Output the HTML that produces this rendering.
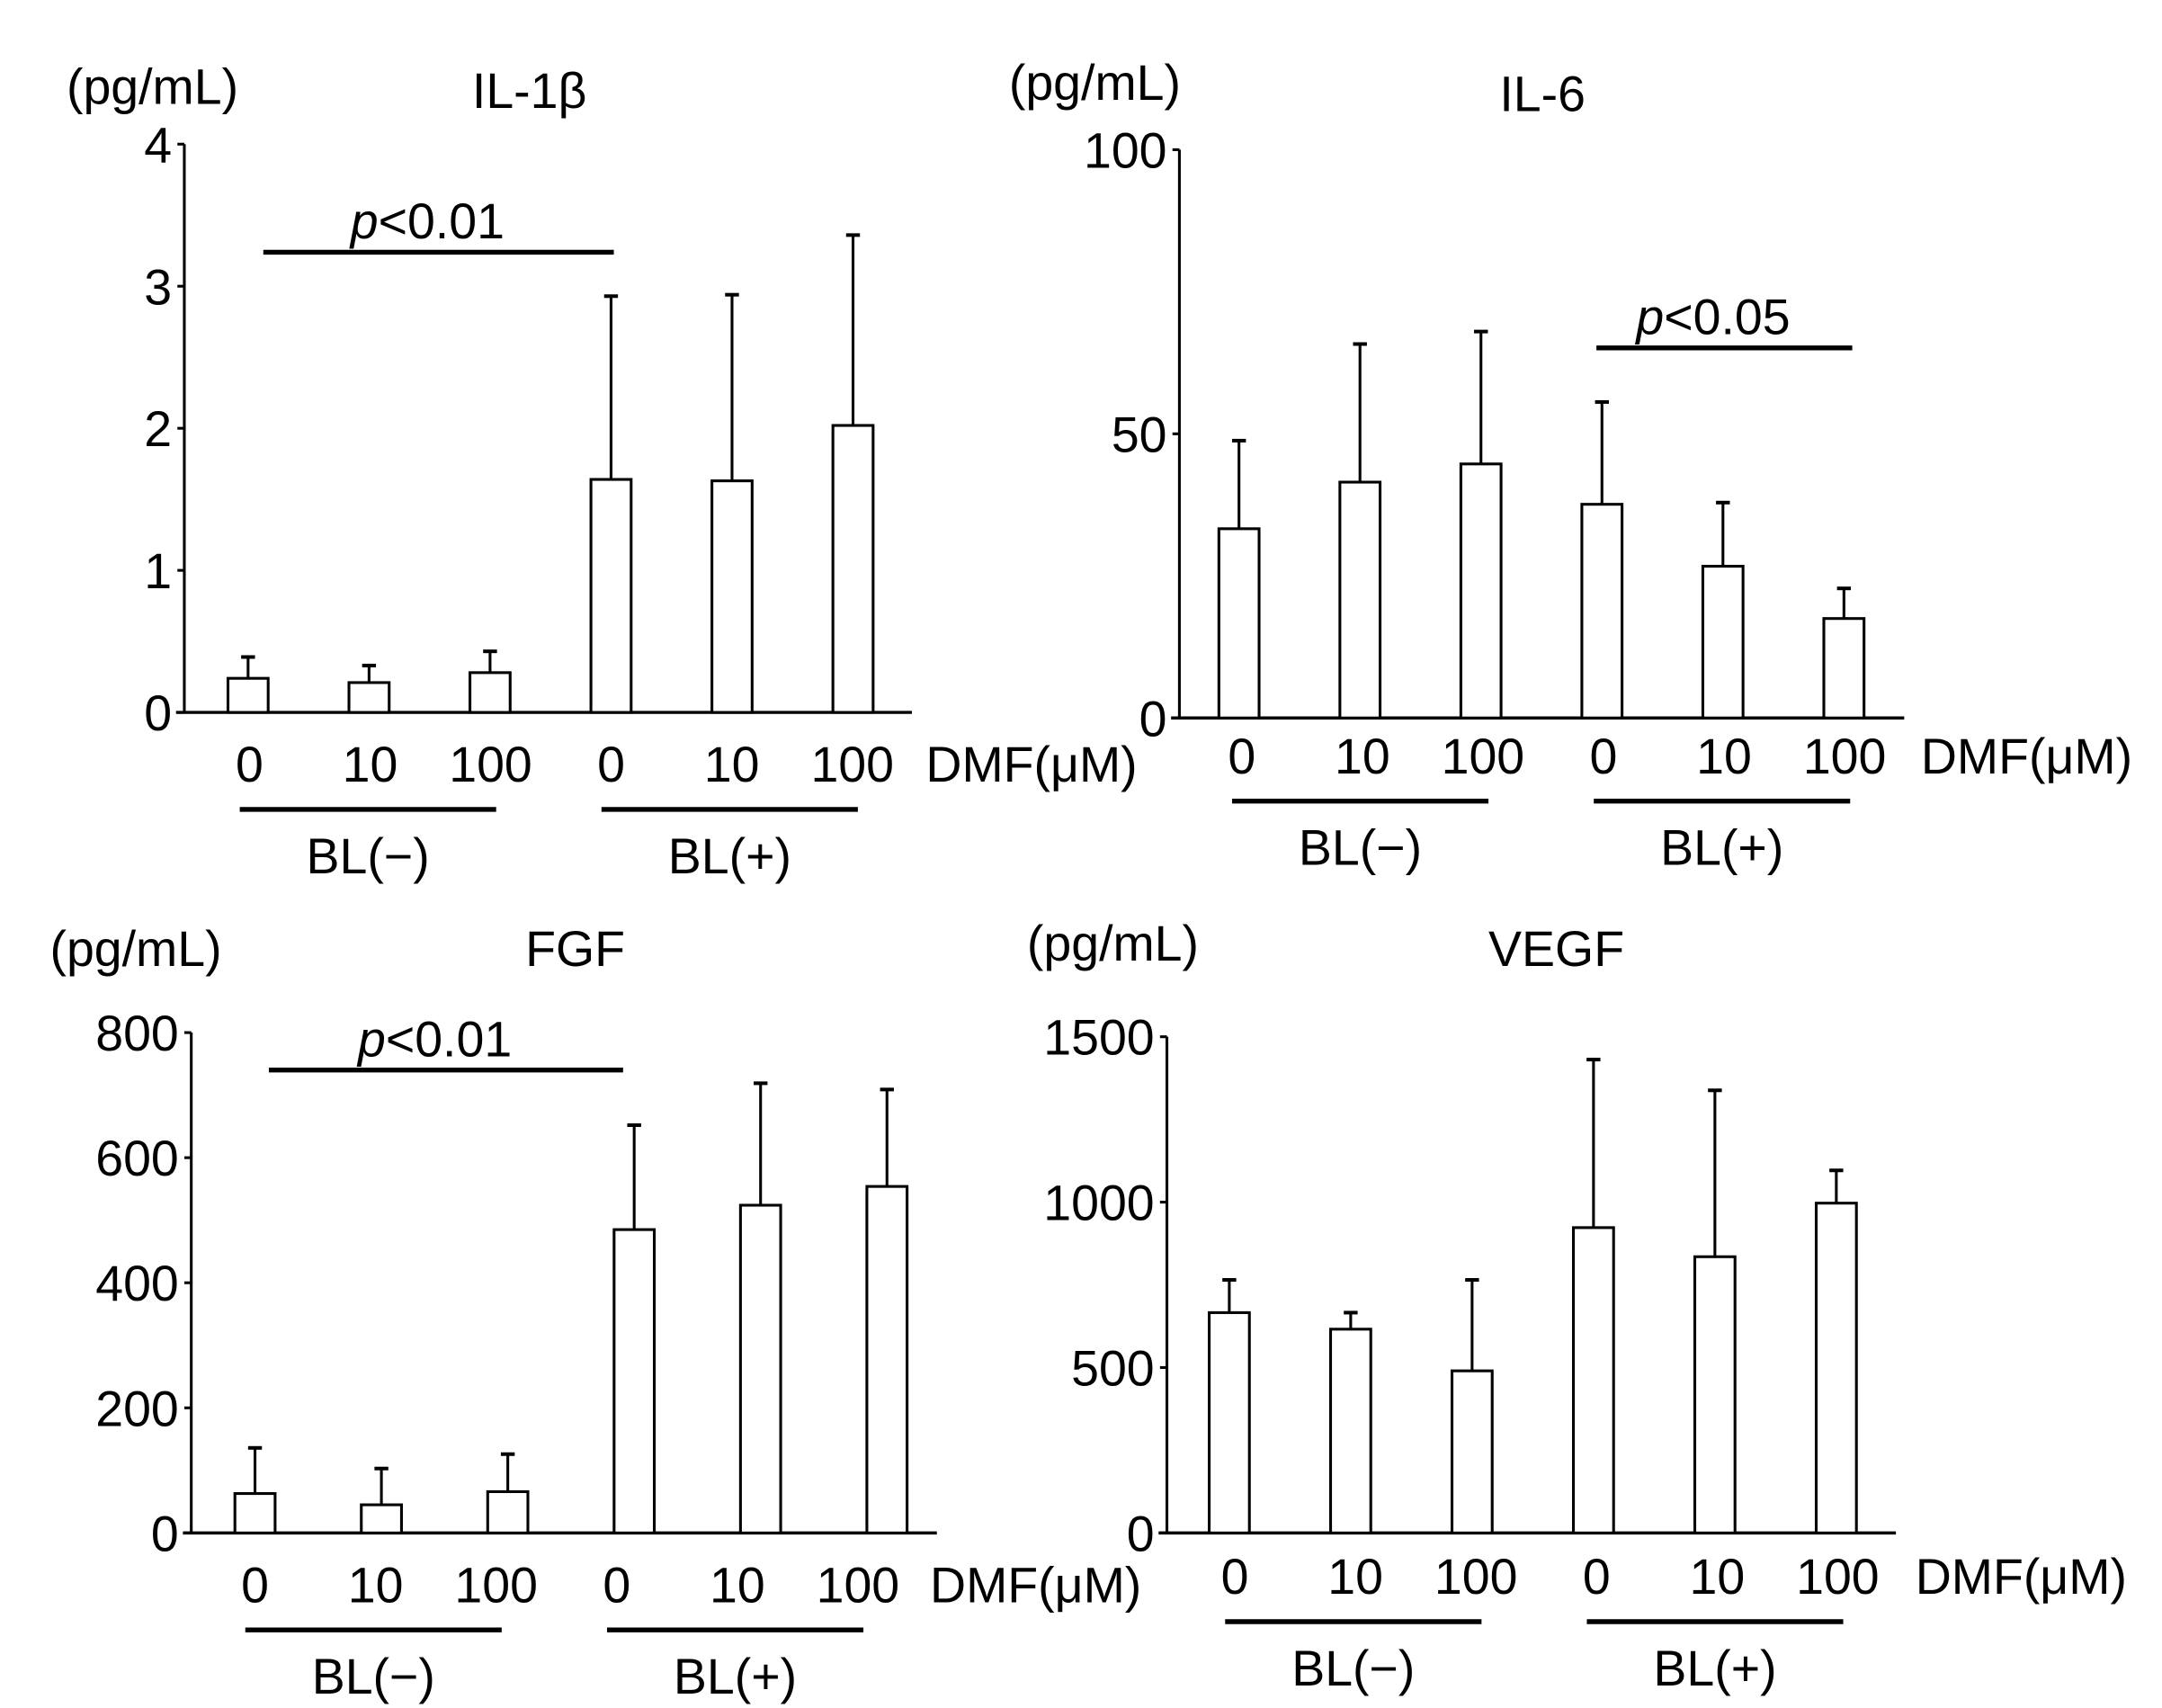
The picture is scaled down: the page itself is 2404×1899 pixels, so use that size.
<!DOCTYPE html>
<html><head><meta charset="utf-8"><style>
html,body{margin:0;padding:0;background:#fff;}
svg{display:block;}
text{font-family:"Liberation Sans",Arial,sans-serif;fill:#000;}
</style></head><body>
<svg id="fig" width="2404" height="1899" viewBox="0 0 1560 1232.3" xmlns="http://www.w3.org/2000/svg"></svg>
<script>
// Shared categories
const categories = ["0","10","100","0","10","100"];
const groupLabels = ["BL(−)","BL(+)"];

// IL-1β
const il1Means = [0.24,0.21,0.28,1.64,1.63,2.02];
const il1Errs  = [0.39,0.33,0.43,2.93,2.94,3.36];
const il1Ticks = [0,1,2,3,4];
// IL-6
const il6Means = [33.3,41.5,44.7,37.6,26.7,17.5];
const il6Errs  = [48.8,65.8,68.0,55.6,37.9,22.8];
const il6Ticks = [0,50,100];
// FGF
const fgfMeans = [63,45,66,485,524,554];
const fgfErrs  = [136,103,126,652,719,709];
const fgfTicks = [0,200,400,600,800];
// VEGF
const vegfMeans = [666,616,490,923,835,997];
const vegfErrs  = [765,666,765,1431,1338,1096];
const vegfTicks = [0,500,1000,1500];

const NS="http://www.w3.org/2000/svg";
const svg=document.getElementById('fig');
const FS=36;
function el(tag,attrs,parent){const e=document.createElementNS(NS,tag);for(const k in attrs)e.setAttribute(k,attrs[k]);(parent||svg).appendChild(e);return e;}
function txt(str,attrs,parent){const t=el('text',attrs,parent);t.textContent=str;return t;}

function panel(p){
  const g=el('g',{});
  
  
  const yMax=p.ticks[p.ticks.length-1];
  const Y=v=>p.y0-(v/yMax)*(p.y0-p.yTop);
  const X=i=>p.x1+i*p.step;
  const L=i=>p.l1+i*p.lstep;
  const ya=el('line',{x1:p.ax,y1:p.yTop,x2:p.ax,y2:p.y0,stroke:'#000','stroke-width':2},g);
  
  
  const xa=el('line',{x1:p.ax-6,y1:p.y0,x2:p.axEnd,y2:p.y0,stroke:'#000','stroke-width':2.2},g);
  
  
  p.ticks.forEach(t=>{
    el('line',{x1:p.ax-5,y1:Y(t),x2:p.ax,y2:Y(t),stroke:'#000','stroke-width':2},g);
    const tl=txt(String(t),{x:p.ax-9,y:Y(t)+13,'font-size':FS,'text-anchor':'end'},g);
    
    
  });
  p.means.forEach((m,i)=>{
    const cx=X(i),w=29;
    const eb=el('line',{x1:cx,y1:Y(m),x2:cx,y2:Y(p.errs[i]),stroke:'#000','stroke-width':2},g);
    
    
    el('line',{x1:cx-5,y1:Y(p.errs[i]),x2:cx+5,y2:Y(p.errs[i]),stroke:'#000','stroke-width':2.6},g);
    const r=el('rect',{x:cx-w/2,y:Y(m),width:w,height:p.y0-Y(m),fill:'#fff',stroke:'#000','stroke-width':2},g);
    
    
    const cl=txt(categories[i],{x:L(i),y:p.catY,'font-size':FS,'text-anchor':'middle'},g);
    
    
  });
  const dmf=txt('DMF(μM)',{x:p.dmfX,y:p.catY,'font-size':FS},g);
  
  
  for(let k=0;k<2;k++){
    const a=L(k*3)-7,b=L(k*3+2)+4;
    const gl=el('line',{x1:a,y1:p.catY+20,x2:b,y2:p.catY+20,stroke:'#000','stroke-width':3.5},g);
    
    
    const bl=txt(groupLabels[k],{x:(a+b)/2,y:p.catY+66,'font-size':FS,'text-anchor':'middle'},g);
    
    
  }
  const un=txt('(pg/mL)',{x:p.unitX,y:p.unitY,'font-size':FS},g);
  
  
  const ti=txt(p.title,{x:p.titleX,y:p.titleY,'font-size':FS,'text-anchor':'middle'},g);
  
  
  if(p.sig){
    const s=p.sig;
    const a=X(s.from)+s.dx1,b=X(s.to)+s.dx2;
    const sl=el('line',{x1:a,y1:s.y,x2:b,y2:s.y,stroke:'#000','stroke-width':3.5},g);
    
    
    const st=el('text',{x:(a+b)/2-8,y:s.y-10,'font-size':FS,'text-anchor':'middle'},g);
    
    
    const ts=document.createElementNS(NS,'tspan');ts.setAttribute('font-style','italic');ts.textContent='p';st.appendChild(ts);
    st.appendChild(document.createTextNode(s.label));
  }
}

panel({name:'il-1b',title:'IL-1β',means:il1Means,errs:il1Errs,ticks:il1Ticks,ax:133,yTop:104,y0:514,x1:179,step:87.3,l1:180,lstep:87,axEnd:658,catY:564,dmfX:668,unitX:48,unitY:75,titleX:382,titleY:78,
  sig:{from:0,to:3,dx1:11,dx2:2,y:182,label:'<0.01'}});
panel({name:'il-6',title:'IL-6',means:il6Means,errs:il6Errs,ticks:il6Ticks,ax:851,yTop:108,y0:518,x1:894,step:87.3,l1:896,lstep:87,axEnd:1374,catY:558,dmfX:1386,unitX:728,unitY:72,titleX:1113,titleY:80,
  sig:{from:3,to:5,dx1:-4,dx2:6,y:251,label:'<0.05'}});
panel({name:'fgf',title:'FGF',means:fgfMeans,errs:fgfErrs,ticks:fgfTicks,ax:138,yTop:745,y0:1106,x1:184,step:91.2,l1:184,lstep:87,axEnd:676,catY:1156,dmfX:671,unitX:36,unitY:697,titleX:415,titleY:697,
  sig:{from:0,to:3,dx1:10,dx2:-8,y:772,label:'<0.01'}});
panel({name:'vegf',title:'VEGF',means:vegfMeans,errs:vegfErrs,ticks:vegfTicks,ax:842,yTop:748,y0:1106,x1:887,step:87.6,l1:891,lstep:87,axEnd:1368,catY:1150,dmfX:1382,unitX:741,unitY:693,titleX:1123,titleY:697});
</script>
</body></html>
